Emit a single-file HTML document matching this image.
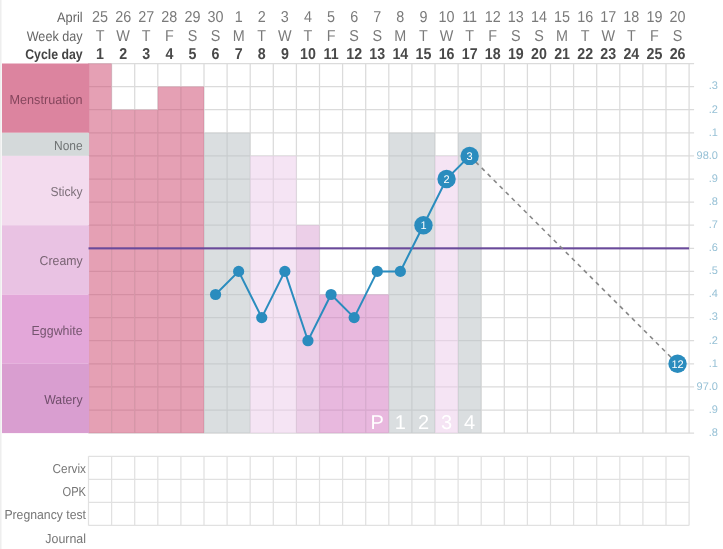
<!DOCTYPE html><html><head><meta charset="utf-8"><title>Chart</title><style>
html,body{margin:0;padding:0;background:#fff}svg{display:block}
text{font-family:"Liberation Sans",sans-serif;text-rendering:geometricPrecision}
.h{font-size:15.8px;fill:#7a7a7a;text-anchor:middle}.hb{font-size:15.8px;font-weight:bold;fill:#484848;text-anchor:middle}
.l{font-size:13px;text-anchor:end}
.ax{font-size:11px;fill:#97c1d6;text-anchor:end}
.ph{font-size:20px;fill:#fff;text-anchor:middle}
.n{font-size:11px;fill:#fff;text-anchor:middle}
</style></head><body>
<svg width="723" height="549" viewBox="0 0 723 549">
<rect width="723" height="549" fill="#fff"/>
<rect x="0" y="0" width="1.5" height="549" fill="#eee"/>
<text class="l" x="82.6" y="21.6" textLength="25.6" lengthAdjust="spacingAndGlyphs" style="font-size:14px" fill="#666">April</text>
<text class="l" x="82.6" y="40.9" textLength="55.9" lengthAdjust="spacingAndGlyphs" style="font-size:14px" fill="#666">Week day</text>
<text class="l" x="82.6" y="58.5" textLength="57.4" lengthAdjust="spacingAndGlyphs" style="font-size:14px;font-weight:bold" fill="#444">Cycle day</text>
<text class="h" transform="translate(100.05 21.6) scale(.91 1)">25</text>
<text class="h" transform="translate(100.05 41) scale(.91 1)">T</text>
<text class="hb" transform="translate(100.05 59) scale(.9 1)">1</text>
<text class="h" transform="translate(123.15 21.6) scale(.91 1)">26</text>
<text class="h" transform="translate(123.15 41) scale(.91 1)">W</text>
<text class="hb" transform="translate(123.15 59) scale(.9 1)">2</text>
<text class="h" transform="translate(146.25 21.6) scale(.91 1)">27</text>
<text class="h" transform="translate(146.25 41) scale(.91 1)">T</text>
<text class="hb" transform="translate(146.25 59) scale(.9 1)">3</text>
<text class="h" transform="translate(169.35 21.6) scale(.91 1)">28</text>
<text class="h" transform="translate(169.35 41) scale(.91 1)">F</text>
<text class="hb" transform="translate(169.35 59) scale(.9 1)">4</text>
<text class="h" transform="translate(192.45 21.6) scale(.91 1)">29</text>
<text class="h" transform="translate(192.45 41) scale(.91 1)">S</text>
<text class="hb" transform="translate(192.45 59) scale(.9 1)">5</text>
<text class="h" transform="translate(215.55 21.6) scale(.91 1)">30</text>
<text class="h" transform="translate(215.55 41) scale(.91 1)">S</text>
<text class="hb" transform="translate(215.55 59) scale(.9 1)">6</text>
<text class="h" transform="translate(238.65 21.6) scale(.91 1)">1</text>
<text class="h" transform="translate(238.65 41) scale(.91 1)">M</text>
<text class="hb" transform="translate(238.65 59) scale(.9 1)">7</text>
<text class="h" transform="translate(261.75 21.6) scale(.91 1)">2</text>
<text class="h" transform="translate(261.75 41) scale(.91 1)">T</text>
<text class="hb" transform="translate(261.75 59) scale(.9 1)">8</text>
<text class="h" transform="translate(284.85 21.6) scale(.91 1)">3</text>
<text class="h" transform="translate(284.85 41) scale(.91 1)">W</text>
<text class="hb" transform="translate(284.85 59) scale(.9 1)">9</text>
<text class="h" transform="translate(307.95 21.6) scale(.91 1)">4</text>
<text class="h" transform="translate(307.95 41) scale(.91 1)">T</text>
<text class="hb" transform="translate(307.95 59) scale(.9 1)">10</text>
<text class="h" transform="translate(331.05 21.6) scale(.91 1)">5</text>
<text class="h" transform="translate(331.05 41) scale(.91 1)">F</text>
<text class="hb" transform="translate(331.05 59) scale(.9 1)">11</text>
<text class="h" transform="translate(354.15 21.6) scale(.91 1)">6</text>
<text class="h" transform="translate(354.15 41) scale(.91 1)">S</text>
<text class="hb" transform="translate(354.15 59) scale(.9 1)">12</text>
<text class="h" transform="translate(377.25 21.6) scale(.91 1)">7</text>
<text class="h" transform="translate(377.25 41) scale(.91 1)">S</text>
<text class="hb" transform="translate(377.25 59) scale(.9 1)">13</text>
<text class="h" transform="translate(400.35 21.6) scale(.91 1)">8</text>
<text class="h" transform="translate(400.35 41) scale(.91 1)">M</text>
<text class="hb" transform="translate(400.35 59) scale(.9 1)">14</text>
<text class="h" transform="translate(423.45 21.6) scale(.91 1)">9</text>
<text class="h" transform="translate(423.45 41) scale(.91 1)">T</text>
<text class="hb" transform="translate(423.45 59) scale(.9 1)">15</text>
<text class="h" transform="translate(446.55 21.6) scale(.91 1)">10</text>
<text class="h" transform="translate(446.55 41) scale(.91 1)">W</text>
<text class="hb" transform="translate(446.55 59) scale(.9 1)">16</text>
<text class="h" transform="translate(469.65 21.6) scale(.91 1)">11</text>
<text class="h" transform="translate(469.65 41) scale(.91 1)">T</text>
<text class="hb" transform="translate(469.65 59) scale(.9 1)">17</text>
<text class="h" transform="translate(492.75 21.6) scale(.91 1)">12</text>
<text class="h" transform="translate(492.75 41) scale(.91 1)">F</text>
<text class="hb" transform="translate(492.75 59) scale(.9 1)">18</text>
<text class="h" transform="translate(515.85 21.6) scale(.91 1)">13</text>
<text class="h" transform="translate(515.85 41) scale(.91 1)">S</text>
<text class="hb" transform="translate(515.85 59) scale(.9 1)">19</text>
<text class="h" transform="translate(538.95 21.6) scale(.91 1)">14</text>
<text class="h" transform="translate(538.95 41) scale(.91 1)">S</text>
<text class="hb" transform="translate(538.95 59) scale(.9 1)">20</text>
<text class="h" transform="translate(562.05 21.6) scale(.91 1)">15</text>
<text class="h" transform="translate(562.05 41) scale(.91 1)">M</text>
<text class="hb" transform="translate(562.05 59) scale(.9 1)">21</text>
<text class="h" transform="translate(585.15 21.6) scale(.91 1)">16</text>
<text class="h" transform="translate(585.15 41) scale(.91 1)">T</text>
<text class="hb" transform="translate(585.15 59) scale(.9 1)">22</text>
<text class="h" transform="translate(608.25 21.6) scale(.91 1)">17</text>
<text class="h" transform="translate(608.25 41) scale(.91 1)">W</text>
<text class="hb" transform="translate(608.25 59) scale(.9 1)">23</text>
<text class="h" transform="translate(631.35 21.6) scale(.91 1)">18</text>
<text class="h" transform="translate(631.35 41) scale(.91 1)">T</text>
<text class="hb" transform="translate(631.35 59) scale(.9 1)">24</text>
<text class="h" transform="translate(654.45 21.6) scale(.91 1)">19</text>
<text class="h" transform="translate(654.45 41) scale(.91 1)">F</text>
<text class="hb" transform="translate(654.45 59) scale(.9 1)">25</text>
<text class="h" transform="translate(677.55 21.6) scale(.91 1)">20</text>
<text class="h" transform="translate(677.55 41) scale(.91 1)">S</text>
<text class="hb" transform="translate(677.55 59) scale(.9 1)">26</text>
<path d="M88.50 63.50V433.10M111.60 63.50V433.10M134.70 63.50V433.10M157.80 63.50V433.10M180.90 63.50V433.10M204.00 63.50V433.10M227.10 63.50V433.10M250.20 63.50V433.10M273.30 63.50V433.10M296.40 63.50V433.10M319.50 63.50V433.10M342.60 63.50V433.10M365.70 63.50V433.10M388.80 63.50V433.10M411.90 63.50V433.10M435.00 63.50V433.10M458.10 63.50V433.10M481.20 63.50V433.10M504.30 63.50V433.10M527.40 63.50V433.10M550.50 63.50V433.10M573.60 63.50V433.10M596.70 63.50V433.10M619.80 63.50V433.10M642.90 63.50V433.10M666.00 63.50V433.10M689.10 63.50V433.10M88.50 63.50H694.10M88.50 86.60H694.10M88.50 109.70H694.10M88.50 132.80H694.10M88.50 155.90H694.10M88.50 179.00H694.10M88.50 202.10H694.10M88.50 225.20H694.10M88.50 248.30H694.10M88.50 271.40H694.10M88.50 294.50H694.10M88.50 317.60H694.10M88.50 340.70H694.10M88.50 363.80H694.10M88.50 386.90H694.10M88.50 410.00H694.10M88.50 433.10H694.10" stroke="#dbdbdb" stroke-width="1.25" fill="none"/>
<rect x="88.50" y="63.50" width="23.10" height="369.60" fill="#cd486f" fill-opacity="0.52"/>
<rect x="111.60" y="109.70" width="23.10" height="323.40" fill="#cd486f" fill-opacity="0.52"/>
<rect x="134.70" y="109.70" width="23.10" height="323.40" fill="#cd486f" fill-opacity="0.52"/>
<rect x="157.80" y="86.60" width="23.10" height="346.50" fill="#cd486f" fill-opacity="0.52"/>
<rect x="180.90" y="86.60" width="23.10" height="346.50" fill="#cd486f" fill-opacity="0.52"/>
<rect x="204.00" y="132.80" width="23.10" height="300.30" fill="#b8c0c3" fill-opacity="0.52"/>
<rect x="227.10" y="132.80" width="23.10" height="300.30" fill="#b8c0c3" fill-opacity="0.52"/>
<rect x="250.20" y="155.90" width="23.10" height="277.20" fill="#eccbea" fill-opacity="0.52"/>
<rect x="273.30" y="155.90" width="23.10" height="277.20" fill="#eccbea" fill-opacity="0.52"/>
<rect x="296.40" y="225.20" width="23.10" height="207.90" fill="#daa3d3" fill-opacity="0.52"/>
<rect x="319.50" y="294.50" width="23.10" height="138.60" fill="#d376c0" fill-opacity="0.52"/>
<rect x="342.60" y="294.50" width="23.10" height="138.60" fill="#d376c0" fill-opacity="0.52"/>
<rect x="365.70" y="294.50" width="23.10" height="138.60" fill="#d376c0" fill-opacity="0.52"/>
<rect x="388.80" y="132.80" width="23.10" height="300.30" fill="#b8c0c3" fill-opacity="0.52"/>
<rect x="411.90" y="132.80" width="23.10" height="300.30" fill="#b8c0c3" fill-opacity="0.52"/>
<rect x="435.00" y="155.90" width="23.10" height="277.20" fill="#eccbea" fill-opacity="0.52"/>
<rect x="458.10" y="132.80" width="23.10" height="300.30" fill="#b8c0c3" fill-opacity="0.52"/>
<rect x="2" y="63.50" width="87.10" height="69.30" fill="#dc849f"/>
<text class="l" x="82.6" y="103.65" textLength="73.1" lengthAdjust="spacingAndGlyphs" fill="#85465d">Menstruation</text>
<rect x="2" y="132.80" width="87.10" height="23.10" fill="#d4d9da"/>
<text class="l" x="82.6" y="149.85" textLength="28.6" lengthAdjust="spacingAndGlyphs" fill="#6f7374">None</text>
<rect x="2" y="155.90" width="87.10" height="69.30" fill="#f3dbee"/>
<text class="l" x="82.6" y="196.05" textLength="32.2" lengthAdjust="spacingAndGlyphs" fill="#7d707a">Sticky</text>
<rect x="2" y="225.20" width="87.10" height="69.30" fill="#e9c2e3"/>
<text class="l" x="82.6" y="265.35" textLength="43" lengthAdjust="spacingAndGlyphs" fill="#786372">Creamy</text>
<rect x="2" y="294.50" width="87.10" height="69.30" fill="#e3a7d9"/>
<text class="l" x="82.6" y="334.65" textLength="51" lengthAdjust="spacingAndGlyphs" fill="#75556f">Eggwhite</text>
<rect x="2" y="363.80" width="87.10" height="69.30" fill="#d99ed0"/>
<text class="l" x="82.6" y="403.95" textLength="38.4" lengthAdjust="spacingAndGlyphs" fill="#704e6b">Watery</text>
<path d="M88.50 456.30V525.45M111.60 456.30V525.45M134.70 456.30V525.45M157.80 456.30V525.45M180.90 456.30V525.45M204.00 456.30V525.45M227.10 456.30V525.45M250.20 456.30V525.45M273.30 456.30V525.45M296.40 456.30V525.45M319.50 456.30V525.45M342.60 456.30V525.45M365.70 456.30V525.45M388.80 456.30V525.45M411.90 456.30V525.45M435.00 456.30V525.45M458.10 456.30V525.45M481.20 456.30V525.45M504.30 456.30V525.45M527.40 456.30V525.45M550.50 456.30V525.45M573.60 456.30V525.45M596.70 456.30V525.45M619.80 456.30V525.45M642.90 456.30V525.45M666.00 456.30V525.45M689.10 456.30V525.45M88.50 456.30H689.10M88.50 479.35H689.10M88.50 502.40H689.10M88.50 525.45H689.10" stroke="#e1e1e1" stroke-width="1.25" fill="none"/>
<text class="l" x="86" y="472.90" textLength="33.4" lengthAdjust="spacingAndGlyphs" fill="#767676">Cervix</text>
<text class="l" x="86" y="496.00" textLength="23.5" lengthAdjust="spacingAndGlyphs" fill="#767676">OPK</text>
<text class="l" x="86" y="519.20" textLength="81.6" lengthAdjust="spacingAndGlyphs" fill="#767676">Pregnancy test</text>
<text class="l" x="86" y="543.10" textLength="40.7" lengthAdjust="spacingAndGlyphs" fill="#767676">Journal</text>
<text class="ax" x="718" y="89.40">.3</text>
<text class="ax" x="718" y="112.50">.2</text>
<text class="ax" x="718" y="135.60">.1</text>
<text class="ax" x="718" y="158.70">98.0</text>
<text class="ax" x="718" y="181.80">.9</text>
<text class="ax" x="718" y="204.90">.8</text>
<text class="ax" x="718" y="228.00">.7</text>
<text class="ax" x="718" y="251.10">.6</text>
<text class="ax" x="718" y="274.20">.5</text>
<text class="ax" x="718" y="297.30">.4</text>
<text class="ax" x="718" y="320.40">.3</text>
<text class="ax" x="718" y="343.50">.2</text>
<text class="ax" x="718" y="366.60">.1</text>
<text class="ax" x="718" y="389.70">97.0</text>
<text class="ax" x="718" y="412.80">.9</text>
<text class="ax" x="718" y="435.90">.8</text>
<text class="ph" x="377.25" y="429.2">P</text>
<text class="ph" x="400.35" y="429.2">1</text>
<text class="ph" x="423.45" y="429.2">2</text>
<text class="ph" x="446.55" y="429.2">3</text>
<text class="ph" x="469.65" y="429.2">4</text>
<rect x="88.50" y="247.30" width="600.60" height="2.1" fill="#6a4a9b"/>
<line x1="469.65" y1="155.90" x2="677.55" y2="363.80" stroke="#878787" stroke-width="1.6" stroke-dasharray="4.2 4.3"/>
<polyline points="215.55,294.50 238.65,271.40 261.75,317.60 284.85,271.40 307.95,340.70 331.05,294.50 354.15,317.60 377.25,271.40 400.35,271.40 423.45,225.20 446.55,179.00 469.65,155.90" fill="none" stroke="#2a8cbe" stroke-width="2"/>
<circle cx="215.55" cy="294.50" r="5.6" fill="#2a8cbe"/>
<circle cx="238.65" cy="271.40" r="5.6" fill="#2a8cbe"/>
<circle cx="261.75" cy="317.60" r="5.6" fill="#2a8cbe"/>
<circle cx="284.85" cy="271.40" r="5.6" fill="#2a8cbe"/>
<circle cx="307.95" cy="340.70" r="5.6" fill="#2a8cbe"/>
<circle cx="331.05" cy="294.50" r="5.6" fill="#2a8cbe"/>
<circle cx="354.15" cy="317.60" r="5.6" fill="#2a8cbe"/>
<circle cx="377.25" cy="271.40" r="5.6" fill="#2a8cbe"/>
<circle cx="400.35" cy="271.40" r="5.6" fill="#2a8cbe"/>
<circle cx="423.45" cy="225.20" r="9.2" fill="#2a8cbe"/>
<text class="n" x="423.45" y="229.20">1</text>
<circle cx="446.55" cy="179.00" r="9.2" fill="#2a8cbe"/>
<text class="n" x="446.55" y="183.00">2</text>
<circle cx="469.65" cy="155.90" r="9.2" fill="#2a8cbe"/>
<text class="n" x="469.65" y="159.90">3</text>
<circle cx="677.55" cy="363.80" r="9.2" fill="#2a8cbe"/>
<text class="n" x="677.55" y="367.80">12</text>
</svg></body></html>
